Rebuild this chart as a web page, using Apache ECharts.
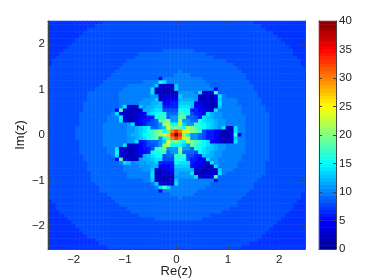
<!DOCTYPE html>
<html><head><meta charset="utf-8">
<style>html,body{margin:0;padding:0;background:#fff}#c{width:374px;height:280px}</style>
<script src="https://cdn.jsdelivr.net/npm/echarts@6/dist/echarts.min.js"></script>
</head><body><div id="c"></div>
<script>
// Iteration counts, one string per image row (top to bottom).
// One char per cell: 0-9, a=10 ... z=35, A=36 ... E=40; "8{12}" means 12 cells of 8.
var rows = [
"7{14}8{38}7{13}",
"7{12}8{42}7{11}",
"7{10}8{45}7{10}",
"7{9}8{48}7{8}",
"7{8}8{50}7{7}",
"7{7}8{52}7{6}",
"7{6}8{54}7{5}",
"7{5}8{56}7{4}",
"7{4}8{25}9{8}8{25}7{3}",
"7{3}8{20}9{17}8{22}7{3}",
"7{2}8{20}9{20}8{21}7{2}",
"7{1}8{19}9{25}8{19}7{1}",
"7{1}8{18}9{28}8{17}7{1}",
"8{18}9{30}8{17}",
"8{17}9{16}a{1}9{15}8{16}",
"8{16}9{16}a{4}9{14}8{15}",
"8{15}9{13}5a{10}9{11}8{15}",
"8{14}9{10}a{4}gea{10}9{11}8{14}",
"8{13}9{7}a{7}d3333da{8}9{11}8{13}",
"8{12}9{7}a{7}e33222da{9}59{9}8{13}",
"8{10}9{8}a{8}e222222b{4}ae333i9{10}8{12}",
"8{10}9{8}a{8}b{2}23333db{4}22333ea9{8}8{12}",
"8{10}9{8}a{6}b{3}d33555c{4}b32223da{4}9{6}8{11}",
"8{9}9{9}a{5}b{3}c{2}d5566d{4}533222ea{4}9{6}8{11}",
"8{9}9{9}ae332db{1}c{2}d{2}6666e{3}d553322da{5}9{6}8{10}",
"8{9}9{8}5i33223c{2}de{2}8888gf{2}665533ea{6}9{6}8{10}",
"8{8}9{8}ae3322335defg{2}999h{2}g8665ecb{2}a{5}9{7}8{9}",
"8{8}9{7}a{3}f32235566gh{2}9bbji9986edcb{2}a{6}9{6}8{9}",
"8{8}9{7}a{3}e322356689ijkbblbb99ged{2}cb{2}a{5}9{6}8{9}",
"8{8}9{6}a{6}be356889blmffndbbhgfedcb{2}a{5}9{6}8{9}",
"8{7}9{7}a{6}b{2}cdef99bdoikifmkihfedcbe23ea{2}9{6}8{9}",
"8{7}9{7}a{6}b{2}cdeghjlfiuxuqnljh86653223ea{2}9{6}8{9}",
"8{7}9{7}a{6}bc{2}dfghjlorxExkfbb986653223i5a9{6}8{9}",
"8{7}9{7}a{6}b{2}cdeghjbfiuxuqnbb986653223da{2}9{6}8{9}",
"8{8}9{6}a{6}b{2}e56899bdoikifmkihfe553223ea{2}9{6}8{9}",
"8{8}9{6}a{5}e23356889blmfffdbjhgfedcb{2}a{5}9{6}8{9}",
"8{8}9{7}a{2}e332235668hijbbblbb9hged{2}cb{2}a{5}9{6}8{9}",
"8{8}9{7}a{2}f33223556fgh{2}9bbj9998fedcb{2}a{6}9{6}8{9}",
"8{9}9{7}ae332233cdefg899h{3}8866dc{2}b{2}a{5}9{7}8{9}",
"8{9}9{8}5i3322bc{2}de{2}888g{2}f86655eb{2}a{6}9{7}8{9}",
"8{10}9{8}aedab{3}c{2}d6666fe{3}65533eba{5}9{7}8{10}",
"8{10}9{9}a{4}b{3}c{2}5556d{4}553322ea{5}9{7}8{10}",
"8{10}9{9}a{5}b{2}d33355c{5}332223da{3}9{8}8{10}",
"8{11}9{9}a{6}e22333cb{3}e222333ea9{10}8{10}",
"8{11}9{9}a{6}e22222b{5}e2333i9{11}8{11}",
"8{11}9{13}a{2}d33222da{9}59{10}8{12}",
"8{12}9{14}ad3333ea{8}9{11}8{13}",
"8{13}9{14}aeiea{9}9{12}8{13}",
"8{13}9{15}5a{9}9{13}8{14}",
"8{15}9{16}a{6}9{13}8{14}7",
"8{16}9{17}a9{15}8{15}7",
"78{16}9{31}8{15}7{2}",
"7{2}8{16}9{30}8{14}7{3}",
"7{2}8{18}9{26}8{16}7{3}",
"7{3}8{18}9{23}8{17}7{4}",
"7{4}8{19}9{18}8{19}7{5}",
"7{5}8{22}9{12}8{20}7{6}",
"7{6}8{52}7{7}",
"7{7}8{50}7{8}",
"7{8}8{48}7{9}",
"7{9}8{46}7{10}",
"7{10}8{44}7{11}",
"7{12}8{41}7{12}",
"7{13}8{38}7{14}",
"7{15}8{34}7{16}"
];
var tickValues = [-2, -1, 0, 1, 2];
var colorbarLevels = [0.31,0.94,1.56,2.19,2.81,3.44,4.06,4.69,5.31,5.94,6.56,7.19,7.81,8.44,9.06,9.69,
10.31,10.94,11.56,12.19,12.81,13.44,14.06,14.69,15.31,15.94,16.56,17.19,17.81,18.44,19.06,19.69,
20.31,20.94,21.56,22.19,22.81,23.44,24.06,24.69,25.31,25.94,26.56,27.19,27.81,28.44,29.06,29.69,
30.31,30.94,31.56,32.19,32.81,33.44,34.06,34.69,35.31,35.94,36.56,37.19,37.81,38.44,39.06,39.69];
var jet = ['#00008f','#0000ff','#0080ff','#00ffff','#80ff80','#ffff00','#ff8000','#ff0000','#800000'];

var alphabet = '0123456789abcdefghijklmnopqrstuvwxyzABCDE';
var COLS = 65, heat = [];
rows.forEach(function (s, r) {
  var line = s.replace(/(.)\{(\d+)\}/g, function (m, ch, n) { return new Array(+n + 1).join(ch); });
  for (var c = 0; c < COLS; c++) {
    var ch = line.charAt(Math.min(c, line.length - 1));
    heat.push([c, r, alphabet.indexOf(ch)]);
  }
});
function idx(n) { var a = []; for (var i = 0; i < n; i++) a.push(i); return a; }

var FONT = 'Liberation Sans', INK = '#222', FRAME = '#444', TICK_SIZE = 11.5;
function mainFmt(v) { return String(v).replace('-', '\u2212'); }
function tick() { return { show: true, inside: true, length: 3, customValues: tickValues, lineStyle: { color: FRAME, width: 1 } }; }
function frameAxis(extra) {
  return Object.assign({
    type: 'value', z: 6, splitLine: { show: false },
    axisLine: { show: true, onZero: false, lineStyle: { color: FRAME, width: 1 } },
    axisLabel: { show: false, color: INK, fontFamily: FONT, fontSize: TICK_SIZE }
  }, extra);
}
var mainBox = { left: 48, top: 21, width: 257, height: 228, outerBoundsMode: 'none' };
var barBox = { left: 319, top: 21, width: 17, height: 228, outerBoundsMode: 'none' };
var hiddenCat = function (n, gi, inv) { return { type: 'category', gridIndex: gi, data: idx(n), show: false, inverse: !!inv }; };
var barTick = { show: true, inside: true, length: 3, lineStyle: { color: FRAME, width: 1 } };

var option = {
  animation: false, backgroundColor: '#fff',
  grid: [mainBox, mainBox, barBox, barBox],
  xAxis: [
    hiddenCat(COLS, 0),
    frameAxis({ gridIndex: 1, position: 'bottom', min: -2.5, max: 2.5, interval: 0.5, axisTick: tick(),
      name: 'Re(z)', nameLocation: 'middle', nameGap: 16, nameMoveOverlap: false,
      nameTextStyle: { color: INK, fontFamily: FONT, fontSize: 13 },
      axisLabel: { show: true, color: INK, fontFamily: FONT, fontSize: TICK_SIZE, margin: 5, customValues: tickValues, formatter: mainFmt } }),
    frameAxis({ gridIndex: 1, position: 'top', min: -2.5, max: 2.5, interval: 0.5, axisTick: tick() }),
    hiddenCat(1, 2),
    frameAxis({ gridIndex: 3, position: 'bottom', min: 0, max: 1, axisTick: { show: false } }),
    frameAxis({ gridIndex: 3, position: 'top', min: 0, max: 1, axisTick: { show: false } })
  ],
  yAxis: [
    hiddenCat(rows.length, 0, true),
    frameAxis({ gridIndex: 1, position: 'left', min: -2.5, max: 2.5, interval: 0.5, axisTick: tick(),
      name: 'Im(z)', nameLocation: 'middle', nameGap: 21, nameRotate: 90, nameMoveOverlap: false,
      nameTextStyle: { color: INK, fontFamily: FONT, fontSize: 13 },
      axisLabel: { show: true, color: INK, fontFamily: FONT, fontSize: TICK_SIZE, margin: 3, customValues: tickValues, formatter: mainFmt } }),
    frameAxis({ gridIndex: 1, position: 'right', min: -2.5, max: 2.5, interval: 0.5, axisTick: tick() }),
    hiddenCat(colorbarLevels.length, 2),
    frameAxis({ gridIndex: 3, position: 'right', min: 0, max: 40, interval: 5, axisTick: barTick,
      axisLabel: { show: true, color: INK, fontFamily: FONT, fontSize: TICK_SIZE, margin: 3 } }),
    frameAxis({ gridIndex: 3, position: 'left', min: 0, max: 40, interval: 5, axisTick: barTick })
  ],
  visualMap: { show: false, type: 'continuous', min: 0, max: 40, seriesIndex: [0, 1], inRange: { color: jet } },
  series: [
    { type: 'heatmap', xAxisIndex: 0, yAxisIndex: 0, data: heat, progressive: 0, animation: false, itemStyle: { borderWidth: 0 }, emphasis: { disabled: true } },
    { type: 'heatmap', xAxisIndex: 3, yAxisIndex: 3, data: colorbarLevels.map(function (v, i) { return [0, i, v]; }), progressive: 0, animation: false, itemStyle: { borderWidth: 0 }, emphasis: { disabled: true } }
  ]
};
echarts.init(document.getElementById('c'), null, { renderer: 'canvas' }).setOption(option);
</script></body></html>
